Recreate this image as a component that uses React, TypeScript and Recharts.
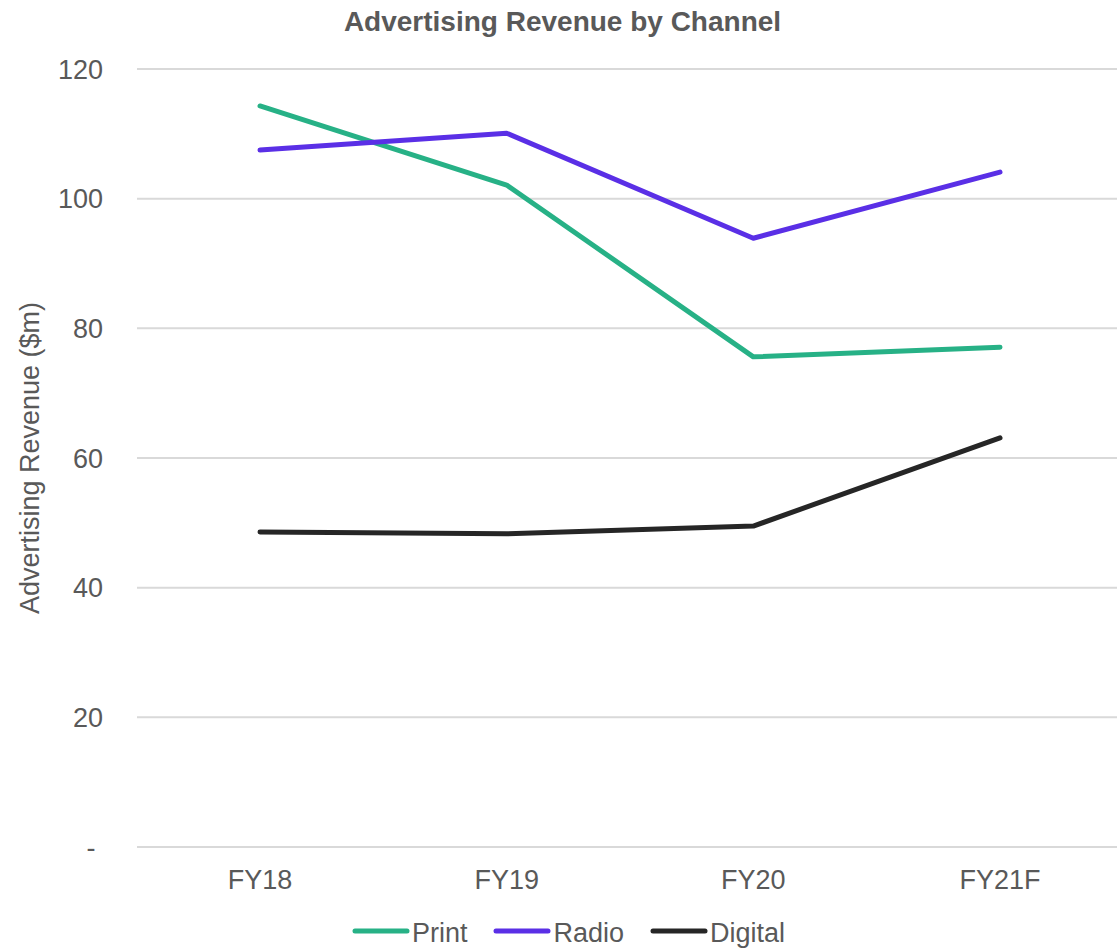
import React from "react";
import { LineChart, Line, XAxis, YAxis, CartesianGrid, Legend } from "recharts";

const categories = ["FY18", "FY19", "FY20", "FY21F"];
const printValues = [114.3, 102.1, 75.6, 77.1];
const radioValues = [107.5, 110.1, 93.9, 104.1];
const digitalValues = [48.6, 48.3, 49.5, 63.1];
const yTicks = [0, 20, 40, 60, 80, 100, 120];

const seriesDefs = [
  { key: "Print", color: "#27B186" },
  { key: "Radio", color: "#5A2FE6" },
  { key: "Digital", color: "#262626" },
];
const seriesOrder = seriesDefs.map((s) => s.key);

const data = categories.map((c, i) => ({
  name: c,
  Print: printValues[i],
  Radio: radioValues[i],
  Digital: digitalValues[i],
}));

const FONT = "'Liberation Sans', Arial, sans-serif";
const TEXT = "#595959";

const LegendContent = (props: any) => {
  const payload = [...(props.payload || [])].sort(
    (a: any, b: any) => seriesOrder.indexOf(a.value) - seriesOrder.indexOf(b.value)
  );
  return (
    <div
      style={{
        height: 43,
        boxSizing: "border-box",
        paddingTop: 10,
        paddingLeft: 20,
        display: "flex",
        justifyContent: "center",
        alignItems: "center",
        fontFamily: FONT,
      }}
    >
      {payload.map((p: any, i: number) => (
        <div
          key={i}
          style={{ display: "flex", alignItems: "center", marginRight: i < payload.length - 1 ? 26 : 0 }}
        >
          <svg width={58} height={10} style={{ marginBottom: 6, marginRight: 2 }}>
            <line x1={3} y1={5} x2={55} y2={5} stroke={p.color} strokeWidth={5} strokeLinecap="round" />
          </svg>
          <span style={{ fontSize: 27, lineHeight: "27px", color: TEXT }}>{p.value}</span>
        </div>
      ))}
    </div>
  );
};

export default function App() {
  return (
    <div style={{ position: "absolute", left: 0, top: 0, width: 1117, height: 950, fontFamily: FONT }}>
      <div
        style={{
          position: "absolute",
          top: 8,
          left: 4,
          width: 1117,
          textAlign: "center",
          fontSize: 28,
          lineHeight: "28px",
          fontWeight: "bold",
          color: TEXT,
          zIndex: 2,
        }}
      >
        Advertising Revenue by Channel
      </div>
      <LineChart width={1117} height={950} data={data} margin={{ top: 69, right: 0, left: 0, bottom: 0 }}>
        <CartesianGrid vertical={false} stroke="#D9D9D9" strokeWidth={2} />
        <XAxis
          dataKey="name"
          height={60}
          axisLine={false}
          tickLine={false}
          tickSize={0}
          tickMargin={23}
          padding={{ left: 123, right: 117 }}
          tick={{ fontSize: 27, fill: TEXT, fontFamily: FONT }}
        />
        <YAxis
          width={137}
          domain={[0, 120]}
          ticks={yTicks}
          axisLine={false}
          tickLine={false}
          tickSize={0}
          tickMargin={34}
          tickFormatter={(v: number) => (v === 0 ? "-\u00A0" : String(v))}
          tick={{ fontSize: 27, fill: TEXT, fontFamily: FONT }}
          label={{
            value: "Advertising Revenue ($m)",
            angle: -90,
            position: "insideLeft",
            offset: 29,
            style: { textAnchor: "middle", fontSize: 27, fill: TEXT, fontFamily: FONT },
          }}
        />
        <Legend verticalAlign="bottom" content={<LegendContent />} />
        {seriesDefs.map((s) => (
          <Line
            key={s.key}
            type="linear"
            dataKey={s.key}
            stroke={s.color}
            strokeWidth={5}
            strokeLinecap="round"
            strokeLinejoin="round"
            dot={false}
            activeDot={false}
            isAnimationActive={false}
          />
        ))}
      </LineChart>
    </div>
  );
}
